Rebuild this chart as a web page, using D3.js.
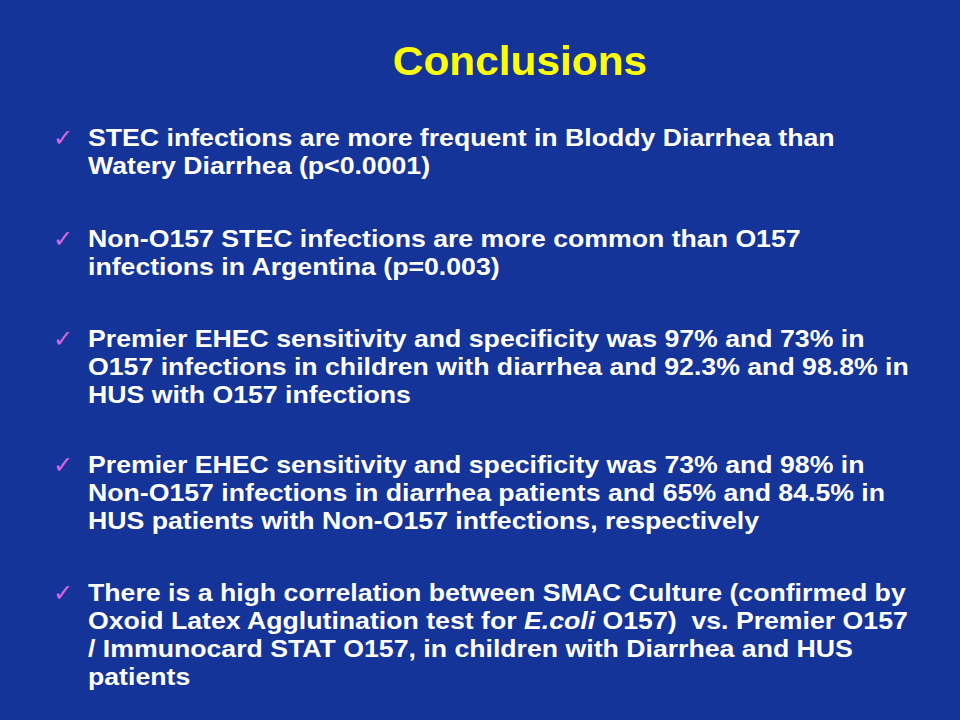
<!DOCTYPE html>
<html lang="en">
<head>
<meta charset="UTF-8">
<title>Conclusions</title>
<style>
    body { margin: 0; background: #14349a; }
    svg { display: block; font-family: "Liberation Sans", Arial, sans-serif; }
    .title { fill: #ffff00; font-size: 40px; font-weight: bold; text-anchor: middle; }
    .line { fill: #fff; font-size: 23.5px; font-weight: bold; }
    .check { fill: #d468e0; font-size: 24px; }
</style>
</head>
<body>
<svg id="slide"></svg>
<script src="https://cdn.jsdelivr.net/npm/d3@7"></script>
<script>
    const title = "Conclusions";
    // each bullet is a list of lines; text between * is italic
    const bullets = [
        ["STEC infections are more frequent in Bloddy Diarrhea than",
         "Watery Diarrhea (p<0.0001)"],
        ["Non-O157 STEC infections are more common than O157",
         "infections in Argentina (p=0.003)"],
        ["Premier EHEC sensitivity and specificity was 97% and 73% in",
         "O157 infections in children with diarrhea and 92.3% and 98.8% in",
         "HUS with O157 infections"],
        ["Premier EHEC sensitivity and specificity was 73% and 98% in",
         "Non-O157 infections in diarrhea patients and 65% and 84.5% in",
         "HUS patients with Non-O157 intfections, respectively"],
        ["There is a high correlation between SMAC Culture (confirmed by",
         "Oxoid Latex Agglutination test for *E.coli* O157)  vs. Premier O157",
         "/ Immunocard STAT O157, in children with Diarrhea and HUS",
         "patients"]
    ];
    const bulletTops = [146, 247, 347, 473, 601];

    const svg = d3.select("#slide").attr("width", 960).attr("height", 720);
    svg.append("rect").attr("width", 960).attr("height", 720).attr("fill", "#14349a");

    svg.append("text").attr("class", "title")
        .attr("transform", "translate(520,75) scale(1.06,1)").text(title);

    const lineH = 28;
    const g = svg.selectAll("g.bullet").data(bullets).enter()
        .append("g").attr("class", "bullet")
        .attr("transform", (d, i) => `translate(0,${bulletTops[i]})`);

    g.append("text").attr("class", "check").attr("x", 53).attr("y", 0).text("\u2713");

    g.append("g").attr("transform", "translate(88,0) scale(1.135,1)")
        .selectAll("text.line").data(d => d).enter()
        .append("text").attr("class", "line")
        .attr("x", 0).attr("y", (d, i) => i * lineH)
        .each(function (d) {
            const parts = d.split("*");
            const t = d3.select(this);
            parts.forEach((p, k) => {
                t.append("tspan").attr("font-style", k % 2 ? "italic" : "normal")
                    .style("white-space", "pre").text(p);
            });
        });
</script>
</body>
</html>
